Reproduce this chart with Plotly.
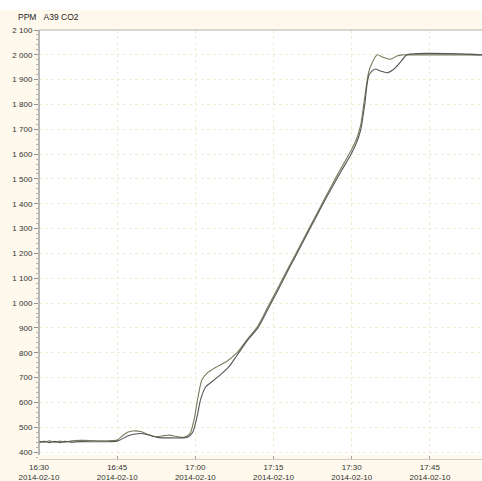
import plotly.graph_objects as go

# ---- data ----
times_a = ["16:30:00", "16:31:00", "16:32:00", "16:33:00", "16:34:00", "16:35:00", "16:36:00", "16:38:00",
           "16:45:00", "16:46:00", "16:47:00", "16:48:00", "16:49:30", "16:51:00", "16:52:30", "16:54:00",
           "16:55:00", "16:56:30", "16:58:00", "16:59:00", "16:59:45", "17:00:30", "17:01:15", "17:02:15",
           "17:04:00", "17:06:00", "17:08:00", "17:10:00", "17:12:00", "17:14:00", "17:16:00", "17:18:00",
           "17:20:00", "17:22:00", "17:24:00", "17:26:00", "17:28:00", "17:30:00", "17:31:00", "17:31:45",
           "17:32:30", "17:33:15", "17:33:54", "17:34:54", "17:36:00", "17:37:24", "17:38:40", "17:39:42",
           "17:40:36", "17:55:00"]
co2_a = [443, 440, 445, 440, 444, 440, 444, 447,
         448, 465, 480, 485, 483, 470, 462, 466,
         468, 462, 460, 475, 530, 620, 690, 718,
         742, 765, 800, 855, 908, 988, 1068, 1148,
         1228, 1308, 1388, 1468, 1545, 1620, 1665, 1720,
         1830, 1930, 1967, 2000, 1990, 1982, 1995, 2000,
         2000, 2000]

times_b = ["16:30:00", "16:31:00", "16:32:00", "16:33:00", "16:34:00", "16:35:00", "16:36:00", "16:38:00",
           "16:45:00", "16:47:00", "16:48:30", "16:50:00", "16:51:30", "16:53:00", "16:55:00", "16:57:00",
           "16:58:30", "16:59:30", "17:00:30", "17:01:00", "17:02:00", "17:03:00", "17:05:00", "17:06:30",
           "17:08:00", "17:10:00", "17:12:00", "17:14:00", "17:16:00", "17:18:00", "17:20:00", "17:22:00",
           "17:24:00", "17:26:00", "17:28:00", "17:30:00", "17:31:00", "17:31:45", "17:32:30", "17:33:20",
           "17:34:30", "17:35:30", "17:36:48", "17:38:18", "17:39:42", "17:40:36", "17:55:00"]
co2_b = [438, 443, 438, 443, 438, 443, 440, 442,
         444, 465, 473, 474, 466, 458, 457, 457,
         460, 480, 560, 611, 663, 680, 715, 745,
         790, 850, 900, 978, 1058, 1140, 1220, 1300,
         1380, 1458, 1532, 1605, 1650, 1700, 1800, 1920,
         1943, 1935, 1928, 1946, 1980, 2000, 2000]

date = "2014-02-10"
y_ticks = list(range(400, 2101, 100))
y_tick_labels = ["400", "500", "600", "700", "800", "900", "1 000", "1 100", "1 200", "1 300", "1 400",
                 "1 500", "1 600", "1 700", "1 800", "1 900", "2 000", "2 100"]
x_ticks = ["16:30", "16:45", "17:00", "17:15", "17:30", "17:45"]

cream = "#FEF9EC"
font_family = "Liberation Sans Narrow, Liberation Sans, Arial, sans-serif"

fig = go.Figure()
fig.add_trace(go.Scatter(x=[f"{date} {t}" for t in times_a], y=co2_a, mode="lines",
                         line=dict(color="#7a7a5c", width=1.1, shape="spline", smoothing=0.7),
                         showlegend=False))
fig.add_trace(go.Scatter(x=[f"{date} {t}" for t in times_b], y=co2_b, mode="lines",
                         line=dict(color="#555555", width=1.1, shape="spline", smoothing=0.7),
                         showlegend=False))

b_margin = 22
plot_h = 481 - 30 - b_margin
gap = 4 / plot_h

fig.update_layout(
    width=482, height=481,
    margin=dict(l=39, r=0, t=30, b=b_margin, autoexpand=False),
    paper_bgcolor=cream,
    plot_bgcolor=cream,
    font=dict(family=font_family, size=8, color="#333333"),
    shapes=[
        dict(type="rect", xref="paper", yref="paper", x0=0, x1=1, y0=gap, y1=1,
             fillcolor="white", line=dict(width=0), layer="below"),
        dict(type="line", xref="paper", yref="paper", x0=0, x1=1, y0=1, y1=1,
             line=dict(color="#b0b0b0", width=1)),
        dict(type="line", xref="paper", yref="paper", x0=0, x1=0, y0=gap, y1=1,
             line=dict(color="#a0a0a0", width=1.5)),
        dict(type="rect", xref="paper", yref="paper", x0=-0.2, x1=1.1, y0=1 + 20 / plot_h, y1=1 + 31 / plot_h,
             fillcolor="white", line=dict(width=0), layer="below"),
    ],
    annotations=[
        dict(text="PPM&nbsp;&nbsp;&nbsp;A39 CO2", xref="paper", yref="paper", x=0, y=1,
             xanchor="left", yanchor="bottom", xshift=-23, yshift=6, showarrow=False,
             font=dict(family=font_family, size=8.5, color="#222222")),
    ],
)

fig.update_xaxes(
    range=[f"{date} 16:30:00", f"{date} 17:55:00"],
    tickvals=[f"{date} {t}" for t in x_ticks],
    ticktext=[f"{t}<br>{date}" for t in x_ticks],
    showgrid=True, gridcolor="#f1edd4", griddash="dot", gridwidth=1,
    showline=True, linecolor="#cccccc", linewidth=1,
    ticks="inside", ticklen=3, tickcolor="#a0a0a0",
    ticklabelstandoff=0, automargin=False,
    zeroline=False, fixedrange=True,
)
fig.update_yaxes(
    range=[372, 2100],
    tickvals=y_ticks, ticktext=y_tick_labels,
    showgrid=True, gridcolor="#f1edd4", griddash="dot", gridwidth=1,
    showline=False, automargin=False,
    ticks="outside", ticklen=4, tickcolor="#909090",
    minor=dict(dtick=20, ticks="outside", ticklen=2, tickcolor="#b0b0b0", showgrid=False),
    zeroline=False,
)

fig.write_html("out.html",
               config={"displayModeBar": False},
               post_script="document.body.style.margin='0';document.body.style.overflow='hidden';")
